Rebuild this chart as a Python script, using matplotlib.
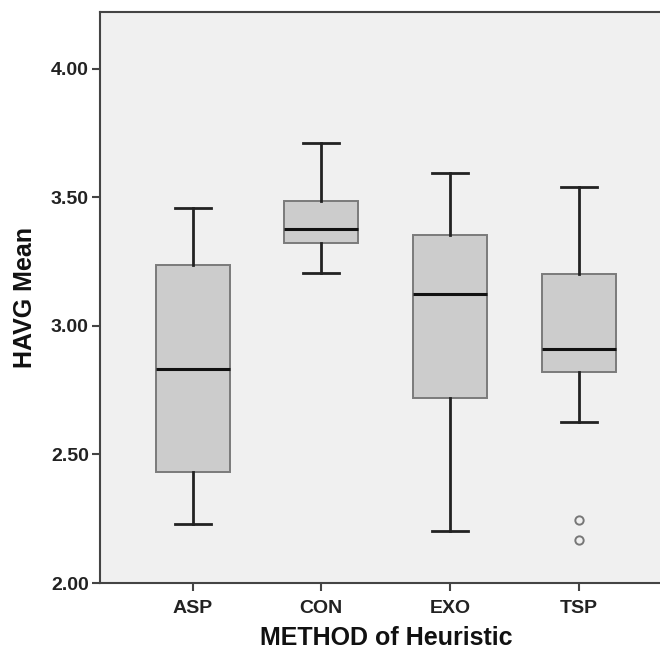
import matplotlib
matplotlib.use("Agg")
import matplotlib.pyplot as plt

categories = ["ASP", "CON", "EXO", "TSP"]
whisker_low = [2.231, 3.204, 2.201, 2.625]
q1 = [2.430, 3.321, 2.720, 2.821]
median = [2.831, 3.375, 3.122, 2.909]
q3 = [3.236, 3.487, 3.354, 3.202]
whisker_high = [3.460, 3.711, 3.594, 3.539]
outliers = [[], [], [], [2.245, 2.168]]
y_ticks = [2.0, 2.5, 3.0, 3.5, 4.0]

plt.rcParams['font.family'] = ['Liberation Sans', 'DejaVu Sans']

fig = plt.figure(figsize=(6.6, 6.53), dpi=100)
W, H = 660, 653
left_px, top_px, bottom_px = 100, 11.8, 583
unit = 128.7
xmin, xmax = -0.72, 3.72
ax = fig.add_axes([left_px / W, (H - bottom_px) / H,
                   (xmax - xmin) * unit / W, (bottom_px - top_px) / H])
ax.set_facecolor('#f0f0f0')

stats = []
for i, c in enumerate(categories):
    stats.append(dict(label=c, whislo=whisker_low[i], q1=q1[i], med=median[i],
                      q3=q3[i], whishi=whisker_high[i], fliers=outliers[i]))

ax.bxp(stats, positions=range(len(categories)), widths=0.573, patch_artist=True,
       showfliers=True, capwidths=0.28,
       boxprops=dict(facecolor='#cccccc', edgecolor='#7a7a7a', linewidth=1.4),
       medianprops=dict(color='#111111', linewidth=2.2),
       whiskerprops=dict(color='#222222', linewidth=2.0),
       capprops=dict(color='#222222', linewidth=2.0),
       flierprops=dict(marker='o', markersize=6, markerfacecolor='none',
                       markeredgecolor='#777777', markeredgewidth=1.4))

ax.set_xlim(xmin, xmax)
ax.set_ylim(2.0, 4.221)
ax.set_yticks(y_ticks)
ax.set_yticklabels([f"{v:.2f}" for v in y_ticks])
ax.set_xticks(range(len(categories)))
ax.set_xticklabels(categories)

for lab in ax.get_xticklabels() + ax.get_yticklabels():
    lab.set_fontweight('bold')
    lab.set_fontsize(14)
    lab.set_color('#222222')

ax.tick_params(axis='both', direction='out', length=6, width=1.5, color='#444444', pad=2)
ax.tick_params(axis='x', pad=6)
for s in ax.spines.values():
    s.set_color('#444444')
    s.set_linewidth(1.5)

ax.set_xlabel("METHOD of Heuristic", fontsize=18, fontweight='bold', labelpad=10, color='#111111')
ax.set_ylabel("HAVG Mean", fontsize=18, fontweight='bold', labelpad=10, color='#111111')
ax.xaxis.set_label_coords((386 - left_px) / ((xmax - xmin) * unit), -0.075)

fig.savefig("out.png", dpi=100)
